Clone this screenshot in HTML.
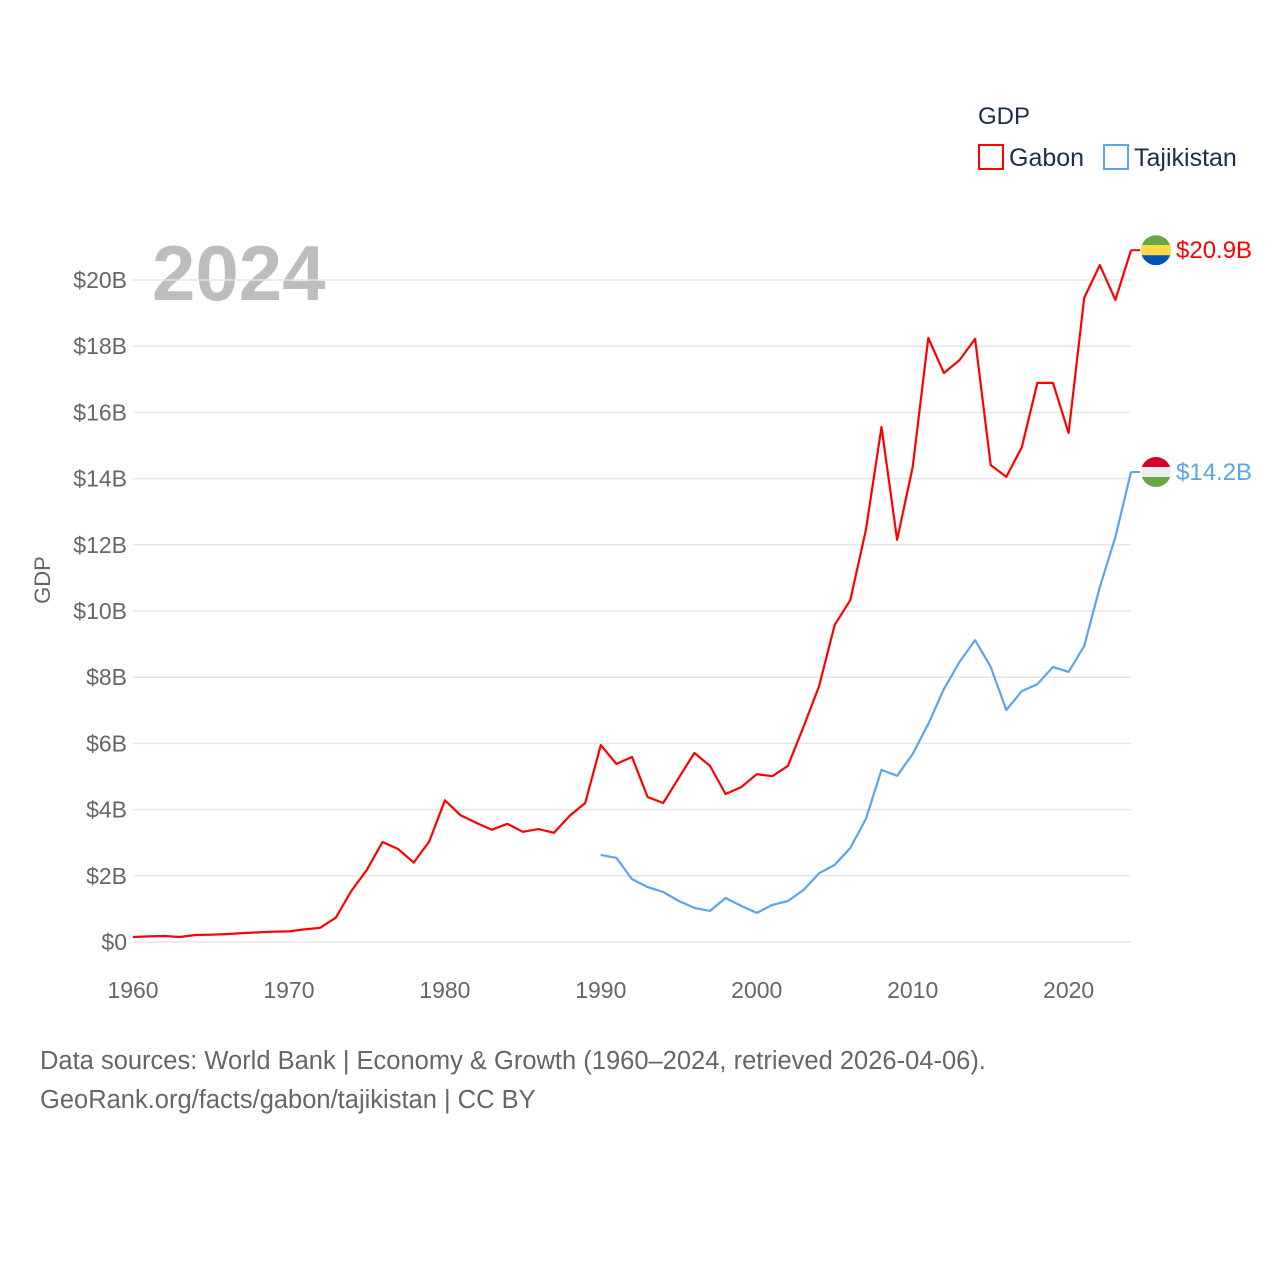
<!DOCTYPE html>
<html><head><meta charset="utf-8"><style>
body{margin:0;background:#fff;font-family:"Liberation Sans",sans-serif;}
svg{display:block}
</style></head><body>
<svg id="chart" width="1280" height="1280">
<text x="978" y="124" font-size="24" fill="#1b2d4b">GDP</text>
<g><rect x="979" y="145" width="24" height="24" fill="none" stroke="#ff0000" stroke-width="2"/><text x="1009" y="166" font-size="25" fill="#1b2d4b">Gabon</text></g>
<g><rect x="1104" y="145" width="24" height="24" fill="none" stroke="#5aa5ec" stroke-width="2"/><text x="1134" y="166" font-size="25" fill="#1b2d4b">Tajikistan</text></g>
<text x="152" y="300" font-size="78" font-weight="bold" fill="#bdbdbd">2024</text>
<text transform="translate(50,580) rotate(-90)" text-anchor="middle" font-size="22" fill="#666">GDP</text>
<g id="grid"></g><g id="lines"></g><g id="ends"></g>
<text x="40" y="1069" font-size="25.5" fill="#666">Data sources: World Bank | Economy &amp; Growth (1960–2024, retrieved 2026-04-06).</text>
<text x="40" y="1108" font-size="25.5" fill="#666">GeoRank.org/facts/gabon/tajikistan | CC BY</text>
</svg>
<script>
const yTicks=[0,2,4,6,8,10,12,14,16,18,20];
const xTicks=[1960,1970,1980,1990,2000,2010,2020];
const gabonYears=[];for(let y=1960;y<=2024;y++)gabonYears.push(y);
const gabonValues=[0.15,0.17,0.18,0.15,0.21,0.22,0.24,0.27,0.29,0.31,0.32,0.38,0.43,0.73,1.54,2.18,3.02,2.81,2.40,3.04,4.28,3.83,3.60,3.39,3.57,3.33,3.41,3.30,3.81,4.20,5.95,5.38,5.59,4.38,4.20,4.96,5.71,5.32,4.47,4.68,5.07,5.01,5.32,6.50,7.73,9.58,10.33,12.45,15.56,12.15,14.35,18.25,17.19,17.58,18.22,14.41,14.05,14.95,16.89,16.89,15.38,19.46,20.45,19.40,20.9];
const tajYears=[];for(let y=1990;y<=2024;y++)tajYears.push(y);
const tajValues=[2.63,2.54,1.90,1.66,1.51,1.24,1.03,0.94,1.33,1.09,0.88,1.12,1.24,1.57,2.08,2.33,2.84,3.72,5.20,5.02,5.68,6.59,7.64,8.46,9.12,8.31,7.01,7.58,7.79,8.31,8.16,8.94,10.72,12.24,14.2];
const endLabels=["$20.9B","$14.2B"];
const NS="http://www.w3.org/2000/svg";
const X=y=>133+(y-1960)*(998/64);
const Y=v=>942-v*33.1;
function mk(t,a,p){const e=document.createElementNS(NS,t);for(const k in a)e.setAttribute(k,a[k]);p.appendChild(e);return e;}
const grid=document.getElementById('grid');
yTicks.forEach(v=>{
 const l=mk('line',{x1:133,x2:1131,y1:Y(v),y2:Y(v),stroke:'#e6e6e6','stroke-width':1.5},grid);
 
 
 const t=mk('text',{x:127,y:Y(v)+8,'text-anchor':'end','font-size':23,fill:'#666'},grid);
 t.textContent=v===0?'$0':'$'+v+'B';
 
 
});
xTicks.forEach(y=>{
 const t=mk('text',{x:X(y),y:998,'text-anchor':'middle','font-size':23,fill:'#666'},grid);
 t.textContent=y;
 
 
});
const lines=document.getElementById('lines');
function series(years,vals,color,name){
 const d=years.map((y,i)=>(i?'L':'M')+X(y).toFixed(1)+','+Y(vals[i]).toFixed(1)).join('');
 const p=mk('path',{d:d,fill:'none',stroke:color,'stroke-width':2.2,'stroke-linejoin':'round'},lines);
 
 
 const ly=Y(vals[vals.length-1]);
 mk('line',{x1:X(2024),x2:X(2024)+9,y1:ly,y2:ly,stroke:color,'stroke-width':2},lines);
 return ly;
}
const gy=series(gabonYears,gabonValues,'#ff0000','gabon-line');
const ty=series(tajYears,tajValues,'#5aa5ec','tajikistan-line');
const ends=document.getElementById('ends');
function flag(cy,cols,name){
 const g=mk('g',{},ends);
 
 
 const cp=mk('clipPath',{id:name+'c'},g);mk('circle',{cx:1156,cy:cy,r:15},cp);
 cols.forEach((c,i)=>mk('rect',{x:1141,y:cy-15+i*10,width:30,height:10,fill:c,'clip-path':'url(#'+name+'c)'},g));
}
flag(gy,['#6da544','#ffda44','#0052b4'],'gabon-flag');
flag(ty,['#d80027','#eeeeee','#6da544'],'tajikistan-flag');
[[gy,'#ff0000',endLabels[0],'gabon-end-label'],[ty,'#5aa5ec',endLabels[1],'tajikistan-end-label']].forEach(a=>{
 const t=mk('text',{x:1176,y:a[0]+8,'font-size':24,fill:a[1]},ends);
 t.textContent=a[2];
 
 
});
</script>
</body></html>
